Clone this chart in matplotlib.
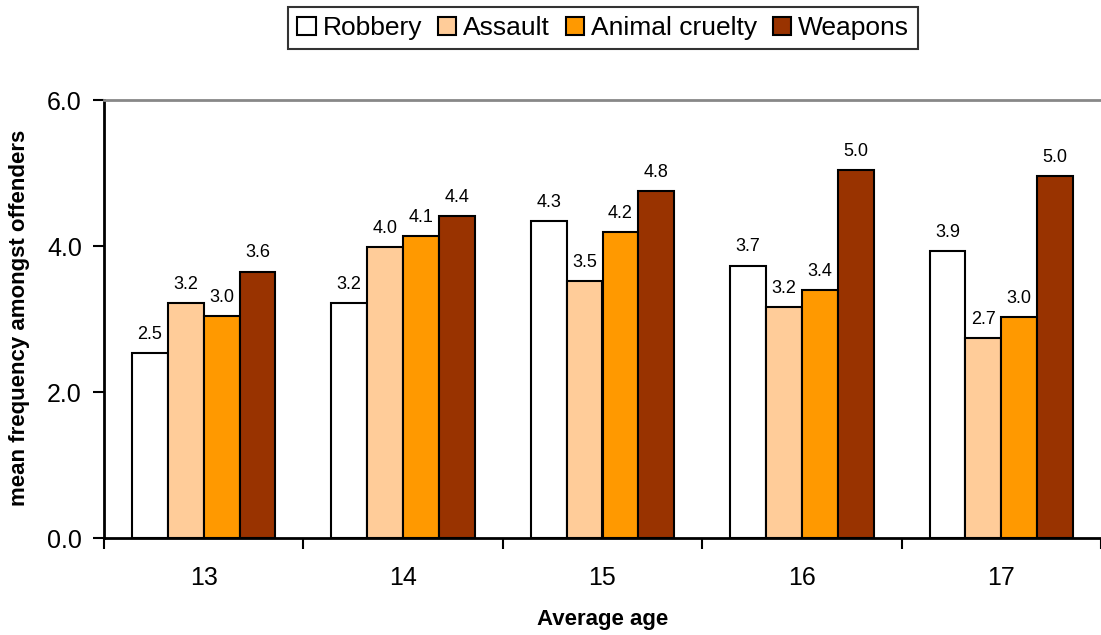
import numpy as np
import matplotlib
matplotlib.use('Agg')
import matplotlib.pyplot as plt

plt.rcParams['font.family'] = ['Liberation Sans', 'DejaVu Sans']

ages = ['13', '14', '15', '16', '17']
series = ['Robbery', 'Assault', 'Animal cruelty', 'Weapons']
robbery = [2.53, 3.22, 4.34, 3.73, 3.93]
assault = [3.22, 3.98, 3.52, 3.16, 2.74]
animal = [3.04, 4.14, 4.19, 3.40, 3.03]
weapons = [3.65, 4.41, 4.75, 5.04, 4.96]
colors = ['#FFFFFF', '#FFCC99', '#FF9900', '#993300']

W, H = 1101, 635
fig = plt.figure(figsize=(W / 100, H / 100), dpi=100)
ax = fig.add_axes([104 / W, 1 - 538 / H, (W - 104) / W, (538 - 100) / H])

x = np.arange(len(ages))
bw = 0.18
for i, (name, vals) in enumerate(zip(series, [robbery, assault, animal, weapons])):
    pos = x + (i - 1.5) * bw
    ax.bar(pos, vals, width=bw, color=colors[i], edgecolor='black',
           linewidth=1.5, label=name)
    for px, v in zip(pos, vals):
        ax.text(px, v + 0.14, f'{v:.1f}', ha='center', va='bottom', fontsize=13)

ax.set_ylim(0, 6)
ax.set_xlim(-0.5, (W - 104) / 200 - 0.5)
ax.set_yticks([0, 2, 4, 6])
ax.set_yticklabels(['0.0', '2.0', '4.0', '6.0'], fontsize=18)
ax.set_xticks(x)
ax.set_xticklabels(ages, fontsize=18)
ax.set_xticks(np.arange(-0.5, 5.0, 1.0), minor=True)
ax.tick_params(axis='x', which='major', length=0, pad=20)
ax.tick_params(axis='x', which='minor', length=8, width=1.5, direction='out')
ax.tick_params(axis='y', length=8, width=1.5, direction='out', pad=8)

ax.spines['right'].set_visible(False)
ax.spines['top'].set_color('#888888')
ax.spines['top'].set_linewidth(2)
ax.spines['left'].set_linewidth(2)
ax.spines['bottom'].set_linewidth(2)

ax.set_xlabel('Average age', fontsize=16, fontweight='bold', labelpad=14)
fig.text(20 / W, 1 - 318 / H, 'mean frequency amongst offenders', rotation=90,
         ha='center', va='center', fontsize=16, fontweight='bold')

leg = fig.legend(loc='upper center', bbox_to_anchor=(603 / W, 1 - 7 / H), ncol=4,
                 fontsize=19, frameon=True, fancybox=False, edgecolor='black',
                 handlelength=0.7, handleheight=0.7, handletextpad=0.25,
                 columnspacing=0.6, borderpad=0.35, borderaxespad=0)
leg.get_frame().set_linewidth(1.5)

plt.savefig('out.png', dpi=100)
